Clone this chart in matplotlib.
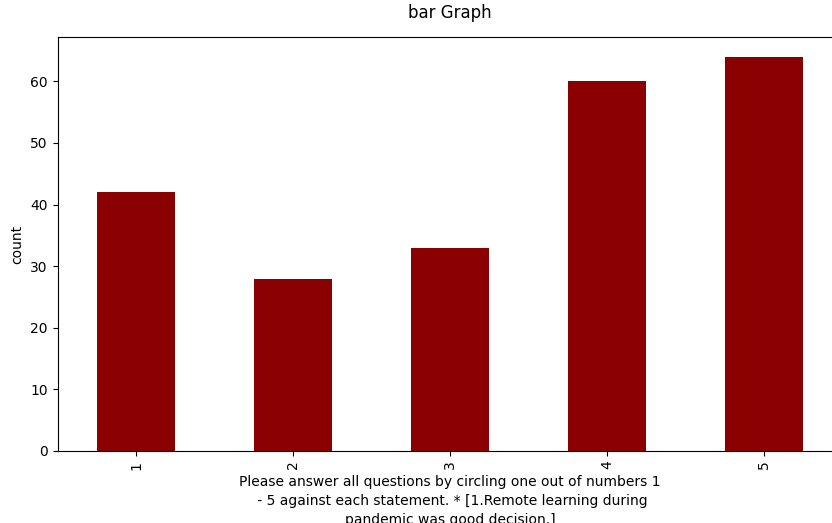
import matplotlib.pyplot as plt

# answer scale and how many picked each one
answers = ["1", "2", "3", "4", "5"]
counts = [42, 28, 33, 60, 64]

question = ("Please answer all questions by circling one out of numbers 1\n"
            " - 5 against each statement. * [1.Remote learning during\n"
            "pandemic was good decision.]")


def draw_bar_graph():
    fig = plt.figure(figsize=(8.32, 5.23), dpi=100)
    # axes runs off the right edge, like the cropped original
    ax = fig.add_axes([57.5 / 832, 72 / 523, 785 / 832, 414 / 523])

    x = range(len(answers))
    ax.bar(x, counts, width=0.5, color="darkred")
    ax.set_xlim(-0.5, len(answers) - 0.5)
    ax.set_ylim(0, max(counts) * 1.05)
    ax.set_xticks(list(x))
    ax.set_xticklabels(answers, rotation=90)

    ax.set_title("bar Graph", pad=14)
    ax.set_ylabel("count")
    ax.set_xlabel(question, linespacing=1.45)

    fig.savefig("out.png", dpi=100)


if __name__ == "__main__":
    draw_bar_graph()
